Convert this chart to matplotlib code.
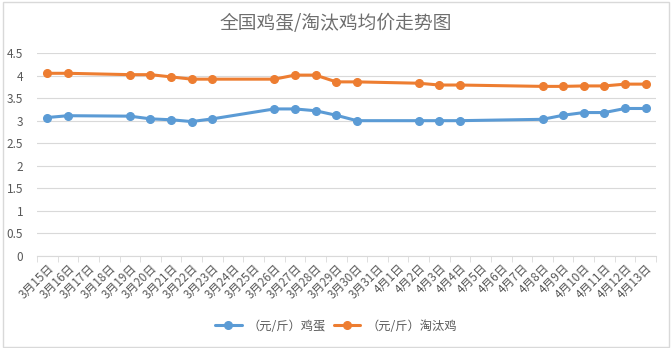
import matplotlib
matplotlib.use("Agg")
import matplotlib.pyplot as plt
from matplotlib.patches import Rectangle

plt.rcParams['font.family'] = ['Noto Sans CJK SC', 'DejaVu Sans']

dates = ['3月15日', '3月16日', '3月17日', '3月18日', '3月19日', '3月20日', '3月21日',
         '3月22日', '3月23日', '3月24日', '3月25日', '3月26日', '3月27日', '3月28日',
         '3月29日', '3月30日', '3月31日', '4月1日', '4月2日', '4月3日', '4月4日',
         '4月5日', '4月6日', '4月7日', '4月8日', '4月9日', '4月10日', '4月11日',
         '4月12日', '4月13日']

# dates that have a reading (both series share them)
obs_dates = ['3月15日', '3月16日', '3月19日', '3月20日', '3月21日', '3月22日', '3月23日',
             '3月26日', '3月27日', '3月28日', '3月29日', '3月30日', '4月2日', '4月3日',
             '4月4日', '4月8日', '4月9日', '4月10日', '4月11日', '4月12日', '4月13日']
egg = [3.07, 3.11, 3.10, 3.04, 3.02, 2.98, 3.04, 3.26, 3.26, 3.22, 3.12,
       3.00, 3.00, 3.00, 3.00, 3.03, 3.12, 3.18, 3.18, 3.27, 3.27]
hen = [4.05, 4.05, 4.02, 4.02, 3.97, 3.92, 3.92, 3.92, 4.01, 4.01, 3.86,
       3.86, 3.83, 3.79, 3.79, 3.76, 3.76, 3.77, 3.77, 3.81, 3.81]
yticks = [0, 0.5, 1, 1.5, 2, 2.5, 3, 3.5, 4, 4.5]

grey = '#595959'
fig = plt.figure(figsize=(6.72, 3.48), dpi=100)
fig.patches.append(Rectangle((0.004, 0.004), 0.992, 0.99, transform=fig.transFigure,
                             fill=False, edgecolor='#d9d9d9', lw=1))
ax = fig.add_axes([37 / 672, 1 - 256 / 348, 619 / 672, 203 / 348])

xs = [dates.index(d) for d in obs_dates]
ax.plot(xs, egg, color='#5B9BD5', lw=2.2, marker='o', ms=5.5, label='（元/斤）鸡蛋',
        solid_capstyle='round', zorder=3)
ax.plot(xs, hen, color='#ED7D31', lw=2.2, marker='o', ms=5.5, label='（元/斤）淘汰鸡',
        solid_capstyle='round', zorder=3)

ax.set_xlim(-0.5, len(dates) - 0.5)
ax.set_ylim(0, 4.5)
ax.set_yticks(yticks)
ax.set_yticklabels([f'{v:g}' for v in yticks], color=grey, fontsize=8.5)
ax.tick_params(axis='y', length=0, pad=10)
ax.grid(axis='y', color='#d9d9d9', lw=0.8)
ax.set_axisbelow(True)

ax.set_xticks(range(len(dates)))
ax.set_xticklabels(dates, rotation=45, ha='right', rotation_mode='anchor',
                   fontsize=8.5, color=grey)
ax.set_xticks([i - 0.5 for i in range(len(dates) + 1)], minor=True)
ax.tick_params(axis='x', which='major', length=0, pad=4)
ax.tick_params(axis='x', which='minor', length=4, color='#d9d9d9', direction='out')

for s in ['top', 'right', 'left']:
    ax.spines[s].set_visible(False)
ax.spines['bottom'].set_color('#d9d9d9')

fig.text(0.5, 1 - 24 / 348, '全国鸡蛋/淘汰鸡均价走势图', ha='center', va='center',
         fontsize=13.5, color='#6e6e6e')
fig.legend(loc='center', bbox_to_anchor=(0.5, 1 - 326 / 348), ncol=2, frameon=False,
           fontsize=8.8, labelcolor=grey, handlelength=2.2, handletextpad=0.5,
           columnspacing=0.6)

fig.savefig('out.png', dpi=100)
